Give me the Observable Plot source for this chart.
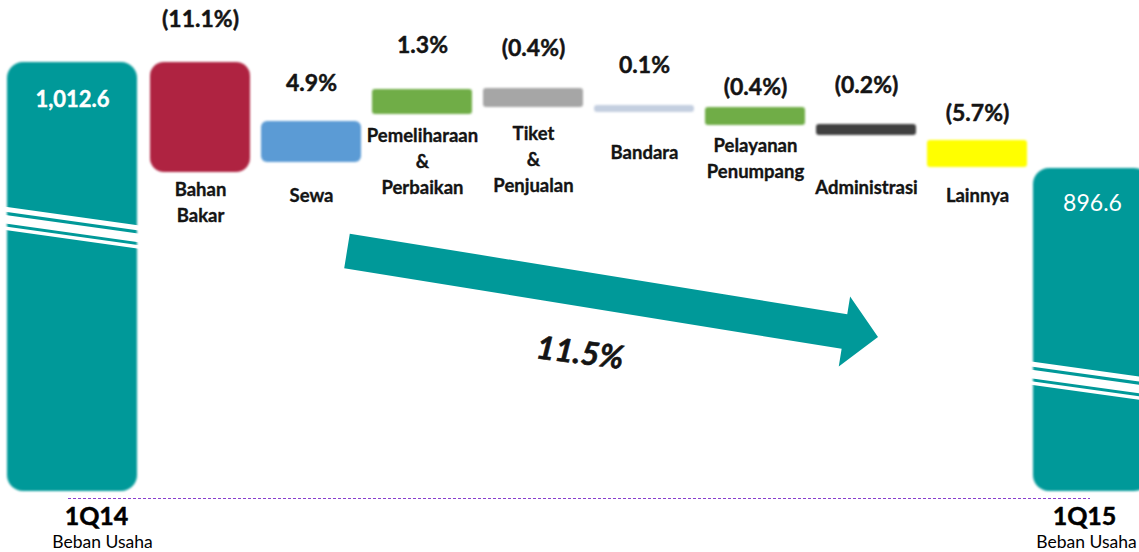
<!DOCTYPE html>
<html><head><meta charset="utf-8">
<script src="https://cdn.jsdelivr.net/npm/d3@7"></script>
<script src="https://cdn.jsdelivr.net/npm/@observablehq/plot@0.6"></script>
<style>
html,body{margin:0;padding:0;background:#fff;overflow:hidden;}
#chart svg{display:block;overflow:hidden;}
g[aria-label="bar"]{filter:blur(0.9px);}
</style></head><body><div id="chart"></div>
<script>
// ---- data ----
const periods = ["1Q14", "1Q15"];
const periodTotals = [1012.6, 896.6];
const periodTotalLabels = ["1,012.6", "896.6"];
const periodSubtitle = "Beban Usaha";
const items = ["Bahan Bakar", "Sewa", "Pemeliharaan & Perbaikan", "Tiket & Penjualan", "Bandara", "Pelayanan Penumpang", "Administrasi", "Lainnya"];
const itemLabels = ["Bahan\nBakar", "Sewa", "Pemeliharaan\n&\nPerbaikan", "Tiket\n&\nPenjualan", "Bandara", "Pelayanan\nPenumpang", "Administrasi", "Lainnya"];
const itemChange = ["(11.1%)", "4.9%", "1.3%", "(0.4%)", "0.1%", "(0.4%)", "(0.2%)", "(5.7%)"];
const itemHigh = [1012.6, 948.0, 983.1, 984.2, 965.5, 963.4, 944.8, 927.2];
const itemLow = [892.2, 903.2, 955.7, 963.4, 957.9, 943.7, 932.7, 897.7];
const axisBase = 543.1;          // bottom of the broken axis
const breakValues = [838.6, 673.4]; // where each total bar is broken
const totalChange = "11.5%";
const arrowFrom = 805.8, arrowTo = 711.7;

// ---- styles ----
const teal = "#009999";
const itemColors = {"Bahan Bakar": "#af2341", "Sewa": "#5b9bd5", "Pemeliharaan & Perbaikan": "#70ad47", "Tiket & Penjualan": "#a6a6a6", "Bandara": "#c4cfe0", "Pelayanan Penumpang": "#70ad47", "Administrasi": "#404040", "Lainnya": "#ffff00"};
const itemRadius = {"Bahan Bakar": 14, "Sewa": 6};
const pctDy = {"Bahan Bakar": -43, "Sewa": -38, "Pemeliharaan & Perbaikan": -44, "Tiket & Penjualan": -40, "Bandara": -40, "Pelayanan Penumpang": -20, "Administrasi": -39, "Lainnya": -27};
const catDy = {"Bahan Bakar": 5, "Sewa": 21, "Pemeliharaan & Perbaikan": 9, "Tiket & Penjualan": 14, "Bandara": 28, "Pelayanan Penumpang": 8, "Administrasi": 40, "Lainnya": 16};
const font = "Lato, 'Open Sans', sans-serif";
const ink = "#141414";
const boldText = {fontWeight: "bold", fontFamily: font, fill: ink, stroke: ink, strokeWidth: 0.45};

const xDomain = [periods[0], ...items, periods[1]];
const itemData = items.map((c, i) => ({cat: c, label: itemLabels[i], pct: itemChange[i], hi: itemHigh[i], lo: itemLow[i]}));
const totalData = periods.map((p, i) => ({cat: p, value: periodTotals[i], label: periodTotalLabels[i], base: axisBase, brk: breakValues[i], sub: periodSubtitle}));

function bandInfo(x) {
  return typeof x.bandwidth === "function" ? x.bandwidth() : 100;
}

// break marks (white diagonal stripes across the total bars)
const breakSpec = [{cat: "1Q14", left: -40, right: 2}, {cat: "1Q15", left: -14, right: 60}];
const stripes = [{off: 0, w: 5}, {off: 10, w: 8.5}, {off: 19, w: 3.5}];
function breakMark(index, scales) {
  const x = scales.x, y = scales.y, bw = bandInfo(x);
  const g = d3.create("svg:g");
  totalData.forEach((d, i) => {
    const s = breakSpec[i];
    const xl = x(d.cat) + s.left, xr = x(d.cat) + bw + s.right;
    const xm = x(d.cat) + bw / 2, yc = y(d.brk), slope = 0.14;
    stripes.forEach(st => {
      g.append("line")
        .attr("x1", xl).attr("y1", yc + st.off + slope * (xl - xm))
        .attr("x2", xr).attr("y2", yc + st.off + slope * (xr - xm))
        .attr("stroke", "#fff").attr("stroke-width", st.w);
    });
  });
  return g.node();
}

// big arrow with total change
function arrowMark(index, scales) {
  const x = scales.x, y = scales.y, bw = bandInfo(x);
  const x0 = x("Sewa") + 0.86 * bw, y0 = y(arrowFrom);
  const x1 = x("Administrasi") + 0.62 * bw, y1 = y(arrowTo);
  const dx = x1 - x0, dy = y1 - y0, len = Math.hypot(dx, dy);
  const u = [dx / len, dy / len], n = [-u[1], u[0]];
  const hs = 17.5, hh = 35.5, hl = 34;
  const bx = x1 - hl * u[0], by = y1 - hl * u[1];
  const P = (px, py, k) => [px + k * n[0], py + k * n[1]];
  const pts = [P(x0, y0, -hs), P(bx, by, -hs), P(bx, by, -hh), [x1, y1], P(bx, by, hh), P(bx, by, hs), P(x0, y0, hs)];
  const g = d3.create("svg:g");
  g.append("polygon").attr("points", pts.map(p => p.join(",")).join(" ")).attr("fill", teal);
  const t = 0.458;
  const lx = x0 + t * dx + 63 * n[0], ly = y0 + t * dy + 63 * n[1];
  g.append("text").attr("transform", `translate(${lx},${ly}) rotate(7)`)
    .attr("text-anchor", "middle").attr("dy", "0.35em")
    .attr("font-family", font).attr("font-size", 32).attr("font-weight", "bold").attr("font-style", "italic")
    .attr("fill", ink).attr("stroke", ink).attr("stroke-width", 0.6).text(totalChange);
  return g.node();
}

const marks = [];
// totals
marks.push(Plot.barY([totalData[0]], {x: "cat", y1: "base", y2: "value", fill: teal, rx: 16, insetLeft: -32, insetRight: 2}));
marks.push(Plot.barY([totalData[1]], {x: "cat", y1: "base", y2: "value", fill: teal, rx: 16, insetLeft: -5, insetRight: -12}));
marks.push(breakMark);
// baseline
marks.push(Plot.ruleY([axisBase], {dy: 7, stroke: "#8a3fd0", strokeWidth: 1, strokeDasharray: "3,2", insetLeft: 68, insetRight: 49}));
// floating bars
itemData.forEach(d => {
  marks.push(Plot.barY([d], {x: "cat", y1: "lo", y2: "hi", fill: itemColors[d.cat], rx: itemRadius[d.cat] ?? 3}));
  marks.push(Plot.text([d], {x: "cat", y: "hi", text: "pct", dy: pctDy[d.cat], fontSize: 23, ...boldText}));
  marks.push(Plot.text([d], {x: "cat", y: "lo", text: "label", lineAnchor: "top", lineHeight: 1.4, dy: catDy[d.cat], fontSize: 18.5, ...boldText, strokeWidth: 0.35}));
});
// total value labels
marks.push(Plot.text([totalData[0]], {x: "cat", y: "value", text: "label", dx: -17, dy: 37.5, fontSize: 22, fontWeight: "bold", fontFamily: font, fill: "#fff", stroke: "#fff", strokeWidth: 0.4}));
marks.push(Plot.text([totalData[1]], {x: "cat", y: "value", text: "label", dx: 4, dy: 35.5, fontSize: 23, fontWeight: "normal", fontFamily: font, fill: "#fff"}));
// period labels
[[7, 13], [-4, -2]].forEach(([dxA, dxB], i) => {
  marks.push(Plot.text([totalData[i]], {x: "cat", frameAnchor: "bottom", lineAnchor: "middle", text: "cat", dx: dxA, dy: -36, fontSize: 25, fontWeight: "bold", fontFamily: font, fill: "#000", stroke: "#000", strokeWidth: 0.5}));
  marks.push(Plot.text([totalData[i]], {x: "cat", frameAnchor: "bottom", lineAnchor: "middle", text: "sub", dx: dxB, dy: -10, fontSize: 17.5, fontWeight: "normal", fontFamily: font, fill: "#000"}));
});
marks.push(arrowMark);

const chart = Plot.plot({
  width: 1139, height: 552,
  marginTop: 0, marginRight: 0, marginBottom: 0, marginLeft: 0,
  x: {domain: xDomain, range: [33.5, 1143.5], paddingInner: 0.099, paddingOuter: 0.0495, axis: null},
  y: {domain: [axisBase, 1012.6], range: [491, 62], axis: null},
  style: {background: "#fff"},
  marks
});
document.getElementById("chart").appendChild(chart);
</script>
</body></html>
